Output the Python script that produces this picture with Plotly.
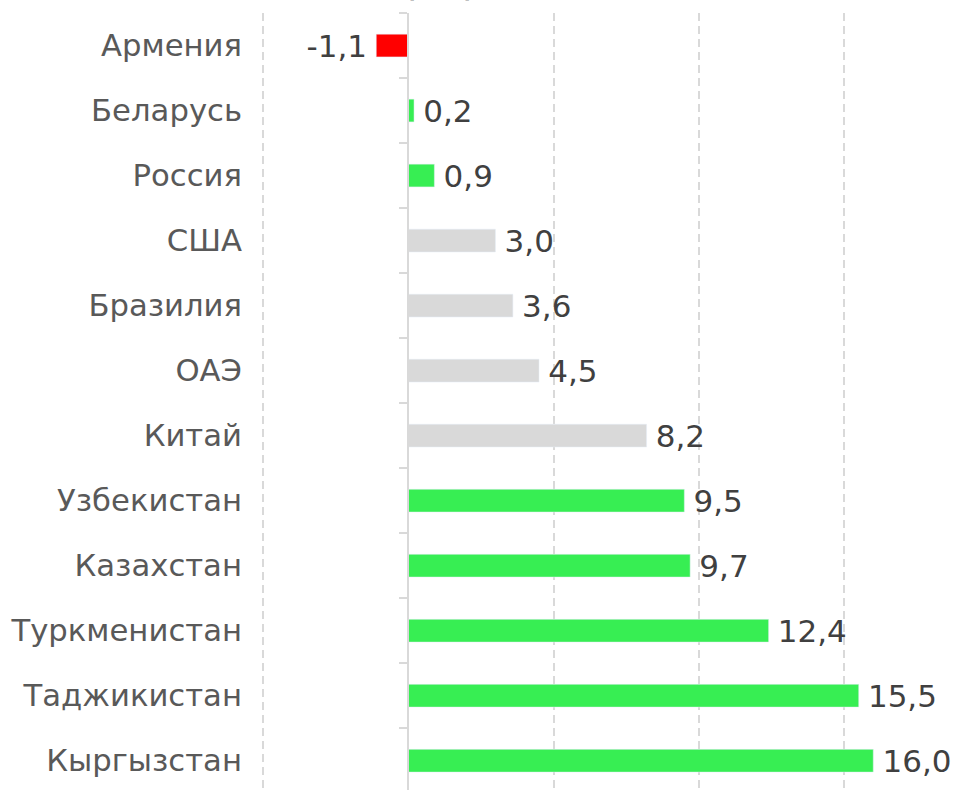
import plotly.graph_objects as go

countries = ["Армения", "Беларусь", "Россия", "США", "Бразилия", "ОАЭ", "Китай",
             "Узбекистан", "Казахстан", "Туркменистан", "Таджикистан", "Кыргызстан"]
values = [-1.1, 0.2, 0.9, 3.0, 3.6, 4.5, 8.2, 9.5, 9.7, 12.4, 15.5, 16.0]
groups = ["neg", "pos", "pos", "other", "other", "other", "other",
          "pos", "pos", "pos", "pos", "pos"]
fmt = [f"{v:.1f}".replace(".", ",") for v in values]
labels = [(s + "\u2009") if v < 0 else ("\u2009" + s) for s, v in zip(fmt, values)]

palette = {"neg": "#FF0000", "pos": "#37EE53", "other": "#D9D9D9"}
colors = [palette[g] for g in groups]

W, H = 959, 790
ml, mt = 260, 13
xmin, xmax = -5.1, 18.95
xfrac0 = (0 - xmin) / (xmax - xmin)

fig = go.Figure()
fig.add_trace(go.Bar(
    y=countries, x=values, orientation="h", marker_color=colors,
    width=0.35, text=labels, textposition="outside", constraintext="none",
    textfont=dict(family="DejaVu Sans", size=31, color="#404040"),
    cliponaxis=False, showlegend=False, hoverinfo="skip",
))
fig.add_trace(go.Bar(
    y=countries, x=[0]*len(values), orientation="h", yaxis="y2",
    marker_color="rgba(0,0,0,0)", showlegend=False, hoverinfo="skip",
))

yr = [11.45, -0.5]
fig.update_layout(
    width=W, height=H,
    margin=dict(l=ml, r=0, t=mt, b=0, autoexpand=False),
    paper_bgcolor="white", plot_bgcolor="white",
    barmode="overlay",
    xaxis=dict(range=[xmin, xmax], dtick=5, tick0=0, showticklabels=False,
               showgrid=True, gridcolor="#D9D9D9", griddash="8px,5px", gridwidth=1.5,
               zeroline=False, showline=False, ticks="", automargin=False),
    yaxis=dict(type="category", range=yr, showgrid=False, zeroline=False,
               showline=False, ticks="", ticklabelstandoff=17, automargin=False,
               tickfont=dict(family="DejaVu Sans", size=30.7, color="#595959")),
    yaxis2=dict(type="category", overlaying="y", matches="y", anchor="free",
                position=xfrac0, side="left", showticklabels=False, automargin=False,
                showline=True, linecolor="#D9D9D9", linewidth=2,
                ticks="outside", tickson="boundaries", ticklen=8,
                tickcolor="#D9D9D9", tickwidth=2, showgrid=False),
)
# partially cut-off title fragment at the top edge
fig.add_annotation(text="<b>(в %)</b>", xref="paper", yref="paper",
                   x=(440 - ml) / (W - ml), xanchor="center",
                   y=1 + (mt - 5) / (H - mt), yanchor="bottom", showarrow=False,
                   font=dict(family="DejaVu Sans", size=24, color="#000000"))

fig.write_html("out.html", config={"displayModeBar": False},
               post_script="document.body.style.margin='0';document.body.style.overflow='hidden';")
